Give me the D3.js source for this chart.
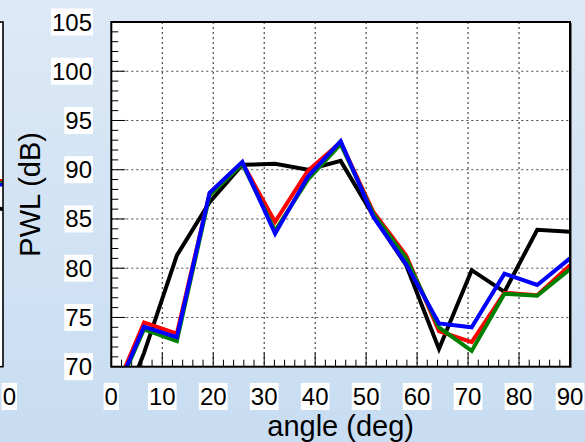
<!DOCTYPE html>
<html>
<head>
<meta charset="utf-8">
<script src="https://cdn.jsdelivr.net/npm/d3@7"></script>
<style>
  html, body { margin: 0; padding: 0; }
  svg { display: block; }
</style>
</head>
<body>
<div id="chart"></div>
<script>
// angles (deg) of the sample points
var angles = [0, 6.43, 12.86, 19.29, 25.71, 32.14, 38.57, 45, 51.43, 57.86, 64.29, 70.71, 77.14, 83.57, 90];

// PWL (dB) per series
var pwlBlack = [63, 71.4, 81.3, 86.7, 90.5, 90.6, 90.0, 90.9, 85.3, 80.3, 71.8, 79.8, 77.6, 83.9, 83.7];
var pwlRed   = [66.6, 74.5, 73.35, 87.6, 90.7, 84.7, 89.9, 92.8, 85.7, 81.3, 73.6, 72.5, 77.5, 77.25, 80.3];
var pwlGreen = [66.3, 73.8, 72.6, 87.4, 90.6, 83.8, 89.0, 92.6, 85.5, 81.0, 74.0, 71.6, 77.4, 77.2, 79.9];
var pwlBlue  = [66.4, 74.05, 73.0, 87.65, 90.8, 83.5, 89.3, 92.9, 85.2, 80.4, 74.4, 74.0, 79.45, 78.3, 81.0];

// neighbouring panel (only its right end is visible)
var leftAngles = [83.57, 90];
var leftBlack = [86.4, 86.0];
var leftRed   = [89.0, 88.85];
var leftGreen = [88.8, 88.7];
var leftBlue  = [88.6, 88.5];

var xTicks = [0, 10, 20, 30, 40, 50, 60, 70, 80, 90];
var yTicks = [70, 75, 80, 85, 90, 95, 100, 105];
// visible part of the neighbouring panel's last x label
var leftTickLabel = "0";

var width = 585, height = 442;
var plot = {left: 111.3, right: 570, top: 22, bottom: 366.7};
var font = "Liberation Sans, Arial, Helvetica, sans-serif";

var svg = d3.select("#chart").append("svg")
  .attr("width", width)
  .attr("height", height);

var defs = svg.append("defs");
var grad = defs.append("linearGradient").attr("id", "bg")
  .attr("x1", 0).attr("y1", 0).attr("x2", 0).attr("y2", 1);
grad.append("stop").attr("offset", "0%").attr("stop-color", "#dde9f6");
grad.append("stop").attr("offset", "100%").attr("stop-color", "#c8ddf2");

defs.append("clipPath").attr("id", "clipMain").append("rect")
  .attr("x", plot.left).attr("y", plot.top)
  .attr("width", plot.right - plot.left).attr("height", plot.bottom - plot.top);

svg.append("rect").attr("width", width).attr("height", height).attr("fill", "url(#bg)");

var x = d3.scaleLinear().domain([0, 90]).range([plot.left, plot.right]);
var y = d3.scaleLinear().domain([70, 105]).range([plot.bottom, plot.top]);

// left (cut off) panel: same scales, shifted so that 90 deg lands at x=3
var xLeft = d3.scaleLinear().domain([0, 90]).range([3 - (plot.right - plot.left), 3]);
defs.append("clipPath").attr("id", "clipLeft").append("rect")
  .attr("x", xLeft(0)).attr("y", plot.top)
  .attr("width", xLeft(90) - xLeft(0)).attr("height", plot.bottom - plot.top);

svg.append("rect")
  .attr("x", xLeft(0)).attr("y", plot.top)
  .attr("width", xLeft(90) - xLeft(0)).attr("height", plot.bottom - plot.top)
  .attr("fill", "#fff");

var series = [
  {values: pwlBlack, left: leftBlack, color: "#000000"},
  {values: pwlRed, left: leftRed, color: "#ff0000"},
  {values: pwlGreen, left: leftGreen, color: "#008000"},
  {values: pwlBlue, left: leftBlue, color: "#0000ff"}
];

var gLeft = svg.append("g").attr("clip-path", "url(#clipLeft)");
var lineLeft = d3.line()
  .x(function(d, i) { return xLeft(leftAngles[i]); })
  .y(function(d) { return y(d); });
series.forEach(function(s) {
  gLeft.append("path")
    .attr("d", lineLeft(s.left))
    .attr("fill", "none")
    .attr("stroke", s.color)
    .attr("stroke-width", 4);
});
svg.append("rect")
  .attr("x", xLeft(0)).attr("y", plot.top)
  .attr("width", xLeft(90) - xLeft(0)).attr("height", plot.bottom - plot.top)
  .attr("fill", "none").attr("stroke", "#000").attr("stroke-width", 1.6);

// main plot area
svg.append("rect")
  .attr("x", plot.left).attr("y", plot.top)
  .attr("width", plot.right - plot.left).attr("height", plot.bottom - plot.top)
  .attr("fill", "#fff");

// grid
var grid = svg.append("g");
xTicks.slice(1, -1).forEach(function(t) {
  grid.append("line")
    .attr("x1", x(t)).attr("x2", x(t))
    .attr("y1", plot.top).attr("y2", plot.bottom)
    .attr("stroke", "#222").attr("stroke-width", 1)
    .attr("stroke-dasharray", "2,3");
});
yTicks.slice(1, -1).forEach(function(t) {
  grid.append("line")
    .attr("x1", plot.left).attr("x2", plot.right)
    .attr("y1", y(t)).attr("y2", y(t))
    .attr("stroke", "#444").attr("stroke-width", 1)
    .attr("stroke-dasharray", "2,3");
});

// ticks (inside, bottom and left)
var ticks = svg.append("g").attr("stroke", "#000").attr("stroke-width", 1);
d3.range(0, 91, 2).forEach(function(t) {
  var len = (t % 10 === 0) ? 14 : 7;
  ticks.append("line")
    .attr("x1", x(t)).attr("x2", x(t))
    .attr("y1", plot.bottom).attr("y2", plot.bottom - len);
});
d3.range(70, 106, 1).forEach(function(t) {
  var len = (t % 5 === 0) ? 14 : 7;
  ticks.append("line")
    .attr("x1", plot.left).attr("x2", plot.left + len)
    .attr("y1", y(t)).attr("y2", y(t));
});

// lines
var gMain = svg.append("g").attr("clip-path", "url(#clipMain)");
var line = d3.line()
  .x(function(d, i) { return x(angles[i]); })
  .y(function(d) { return y(d); });
series.forEach(function(s) {
  gMain.append("path")
    .attr("d", line(s.values))
    .attr("fill", "none")
    .attr("stroke", s.color)
    .attr("stroke-width", 4)
    .attr("stroke-linejoin", "miter");
});

// frame with slight shadow on the right
svg.append("line")
  .attr("x1", plot.right + 1.5).attr("x2", plot.right + 1.5)
  .attr("y1", plot.top + 1).attr("y2", plot.bottom + 1)
  .attr("stroke", "#777").attr("stroke-width", 1);
svg.append("rect")
  .attr("x", plot.left).attr("y", plot.top)
  .attr("width", plot.right - plot.left).attr("height", plot.bottom - plot.top)
  .attr("fill", "none").attr("stroke", "#000").attr("stroke-width", 2);

// tick labels with white boxes
function boxedText(g, tx, ty, anchor, str) {
  var t = g.append("text")
    .attr("x", tx).attr("y", ty)
    .attr("text-anchor", anchor)
    .attr("font-family", font)
    .attr("font-size", 24)
    .attr("fill", "#000")
    .text(str);
  var bb = t.node().getBBox();
  g.insert("rect", function() { return t.node(); })
    .attr("x", bb.x - 1).attr("y", bb.y)
    .attr("width", bb.width + 2).attr("height", bb.height)
    .attr("fill", "#fff");
}

var labels = svg.append("g");
yTicks.forEach(function(t) {
  boxedText(labels, 92, y(t) + 8.5, "end", String(t));
});
xTicks.forEach(function(t) {
  boxedText(labels, x(t), 405, "middle", String(t));
});
// what shows of the cut-off panel's last tick label
boxedText(labels, 16, 405, "end", leftTickLabel);

// axis titles
svg.append("text")
  .attr("x", (plot.left + plot.right) / 2).attr("y", 436)
  .attr("text-anchor", "middle")
  .attr("font-family", font)
  .attr("font-size", 29)
  .text("angle (deg)");

svg.append("text")
  .attr("transform", "translate(40," + ((plot.top + plot.bottom) / 2) + ") rotate(-90)")
  .attr("text-anchor", "middle")
  .attr("font-family", font)
  .attr("font-size", 29)
  .text("PWL (dB)");
</script>
</body>
</html>
